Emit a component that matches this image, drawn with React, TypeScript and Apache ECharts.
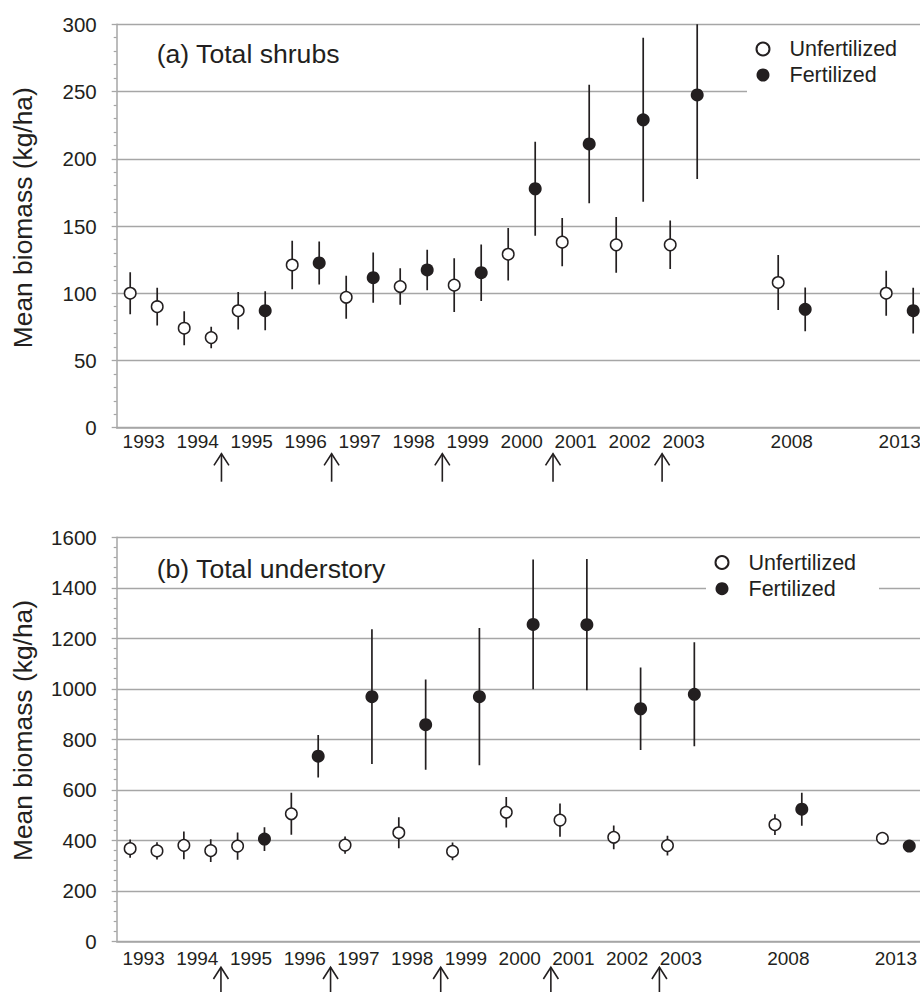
import React, { useEffect, useRef } from 'react';
import * as echarts from 'echarts';

// ---- Data ----
const yearLabels = ['1993', '1994', '1995', '1996', '1997', '1998', '1999', '2000', '2001', '2002', '2003', '', '2008', '', '2013'];
const slotCount = 30; // two sampling slots per year label
const unfertSlots = [0, 1, 2, 3, 4, 6, 8, 10, 12, 14, 16, 18, 20, 24, 28];
const fertSlots = [5, 7, 9, 11, 13, 15, 17, 19, 21, 25, 29];

const shrubUnfertMean = [100, 90, 74, 67, 87, 121, 97, 105, 106, 129, 138, 136, 136, 108, 100];
const shrubUnfertSE = [15.6, 14, 12.6, 8, 14, 18, 16, 13.5, 20, 19.5, 18, 20.7, 18, 20.4, 16.8];
const shrubFertMean = [87, 122.5, 111.6, 117.3, 115.3, 177.7, 211, 229, 247.5, 88, 87];
const shrubFertSE = [14.5, 16, 18.7, 15, 21, 35, 44, 61, 62.6, 16.3, 17];

const underUnfertMean = [367, 358, 380, 359, 377, 505, 381, 430, 356, 511, 480, 412, 379, 462, 408];
const underUnfertSE = [36, 34, 55, 45, 54, 83, 34, 61, 35, 60, 66, 47, 39, 41, 8];
const underFertMean = [405, 733, 969, 858, 969, 1255, 1254, 921, 978, 523, 377];
const underFertSE = [47, 84, 267, 179, 272, 257, 260, 163, 206, 65, 8];

// fertilizer applications (decimal year along the label axis)
const fertilizationTimes = [1994.44, 1996.48, 1998.53, 2000.58, 2002.6];

const shrubAxis = { max: 300, interval: 50 };
const underAxis = { max: 1600, interval: 200 };

// ---- Styles ----
const INK = '#231f20';
const GRID_GREY = '#a6a6a6';
const FONT = "'Liberation Sans', Arial, Helvetica, sans-serif";

const slotX = (s: number) => s + 0.5;
const timeX = (t: number) => (t - 1993) * 2 + 1;

const errRender = (params: any, api: any) => {
  const x = api.value(0);
  const m = api.value(1);
  const se = api.value(2);
  const top = api.coord([x, m + se]);
  const bot = api.coord([x, m - se]);
  return {
    type: 'line',
    shape: { x1: top[0], y1: top[1], x2: bot[0], y2: bot[1] },
    style: { stroke: INK, lineWidth: 1.7 },
  };
};

const arrowRender = (params: any, api: any) => {
  const p = api.coord([api.value(0), 0]);
  const tip = p[1] + 26;
  return {
    type: 'group',
    children: [
      { type: 'line', shape: { x1: p[0], y1: tip, x2: p[0], y2: p[1] + 54 }, style: { stroke: INK, lineWidth: 1.6 } },
      {
        type: 'polyline',
        shape: { points: [[p[0] - 7.5, tip + 11.7], [p[0], tip], [p[0] + 7.5, tip + 11.7]] },
        style: { stroke: INK, lineWidth: 1.6, fill: null },
      },
    ],
  };
};

function panelSeries(idx: number, uMean: number[], uSE: number[], fMean: number[], fSE: number[]) {
  const uData = unfertSlots.map((s, i) => [slotX(s), uMean[i], uSE[i]]);
  const fData = fertSlots.map((s, i) => [slotX(s), fMean[i], fSE[i]]);
  const ax = { xAxisIndex: idx * 2, yAxisIndex: idx };
  return [
    { type: 'custom', name: 'errU' + idx, ...ax, renderItem: errRender, data: uData, clip: true, encode: { x: 0, y: 1 }, z: 1, silent: true },
    { type: 'custom', name: 'errF' + idx, ...ax, renderItem: errRender, data: fData, clip: true, encode: { x: 0, y: 1 }, z: 1, silent: true },
    {
      type: 'scatter', name: 'Unfertilized', ...ax, data: uData.map((d) => [d[0], d[1]]), symbol: 'circle', symbolSize: 11.5,
      itemStyle: { color: '#ffffff', borderColor: INK, borderWidth: 1.5, opacity: 1 }, z: 3, silent: true,
    },
    {
      type: 'scatter', name: 'Fertilized', ...ax, data: fData.map((d) => [d[0], d[1]]), symbol: 'circle', symbolSize: 13,
      itemStyle: { color: INK, opacity: 1 }, z: 3, silent: true,
    },
    {
      type: 'custom', name: 'arrows' + idx, ...ax, renderItem: arrowRender, clip: false, silent: true,
      data: fertilizationTimes.map((t) => [timeX(t), 0]), encode: { x: 0, y: 1 },
    },
  ];
}

function yAxisFor(gridIndex: number, cfg: { max: number; interval: number }) {
  return {
    type: 'value', gridIndex, min: 0, max: cfg.max, interval: cfg.interval,
    axisLine: { show: true, lineStyle: { color: GRID_GREY, width: 1.5 } },
    axisTick: { show: true, length: 5, inside: false, lineStyle: { color: GRID_GREY, width: 1.3 } },
    minorTick: { show: true, splitNumber: 5, length: 3, lineStyle: { color: GRID_GREY, width: 1.2 } },
    splitLine: { show: true, lineStyle: { color: GRID_GREY, width: 1.3 } },
    axisLabel: { margin: 20, fontSize: 20.5, color: INK, fontFamily: FONT, formatter: (v: number) => String(v) },
  };
}

function xAxesFor(gridIndex: number, labelMargin: number) {
  return [
    { type: 'value', gridIndex, min: 0, max: slotCount, show: false, position: 'bottom', splitLine: { show: false } },
    {
      type: 'category', gridIndex, data: yearLabels, position: 'bottom', boundaryGap: true,
      axisLine: { show: true, onZero: false, lineStyle: { color: GRID_GREY, width: 1.5 } },
      axisTick: { show: false },
      splitLine: { show: false },
      axisLabel: { interval: 0, margin: labelMargin, fontSize: 19, color: INK, fontFamily: FONT, hideOverlap: false },
    },
  ];
}

function legendFor(left: number, top: number, gap: number) {
  return {
    orient: 'vertical', left, top, itemWidth: 13, itemHeight: 13, itemGap: gap, padding: 0,
    selectedMode: false,
    data: [{ name: 'Unfertilized', icon: 'circle' }, { name: 'Fertilized', icon: 'circle' }],
    textStyle: { fontSize: 21.5, color: INK, fontFamily: FONT, padding: [0, 0, 0, 15] },
  };
}

export default function App() {
  const ref = useRef<HTMLDivElement>(null);
  useEffect(() => {
    if (!ref.current) return;
    const chart = echarts.init(ref.current, null, { renderer: 'svg' });
    const titleStyle = { fontSize: 26.6, fontWeight: 'normal', color: INK, fontFamily: FONT };
    const yNameStyle = { text: 'Mean biomass (kg/ha)', fontSize: 26.4, fontFamily: FONT, fill: INK, align: 'center', verticalAlign: 'middle', textAlign: 'center', textVerticalAlign: 'middle' };
    const option: any = {
      animation: false,
      backgroundColor: '#ffffff',
      textStyle: { fontFamily: FONT },
      grid: [
        { left: 116.7, top: 24.3, width: 810, height: 403.4, outerBoundsMode: 'none', containLabel: false },
        { left: 116.7, top: 537.3, width: 806, height: 404, outerBoundsMode: 'none', containLabel: false },
      ],
      xAxis: [...xAxesFor(0, 4.5), ...xAxesFor(1, 8)],
      yAxis: [yAxisFor(0, shrubAxis), yAxisFor(1, underAxis)],
      title: [
        { text: '(a) Total shrubs', left: 156.7, top: 40.4, padding: 0, textStyle: titleStyle },
        { text: '(b) Total understory', left: 156.7, top: 555, padding: 0, textStyle: titleStyle },
      ],
      legend: [legendFor(755.5, 38, 4), legendFor(714.5, 551.5, 4.2)],
      graphic: [
        { type: 'rect', z: 3, shape: { x: 747, y: 33, width: 200, height: 62 }, style: { fill: '#ffffff' }, silent: true },
        { type: 'rect', z: 3, shape: { x: 706, y: 546, width: 173, height: 54 }, style: { fill: '#ffffff' }, silent: true },
        { type: 'text', x: 22.5, y: 217.7, rotation: Math.PI / 2, silent: true, style: yNameStyle },
        { type: 'text', x: 22.5, y: 730.5, rotation: Math.PI / 2, silent: true, style: yNameStyle },
      ],
      series: [
        ...panelSeries(0, shrubUnfertMean, shrubUnfertSE, shrubFertMean, shrubFertSE),
        ...panelSeries(1, underUnfertMean, underUnfertSE, underFertMean, underFertSE),
      ],
    };
    chart.setOption(option);
    return () => chart.dispose();
  }, []);
  return <div ref={ref} style={{ position: 'absolute', left: 0, top: 0, width: 920, height: 992 }} />;
}
